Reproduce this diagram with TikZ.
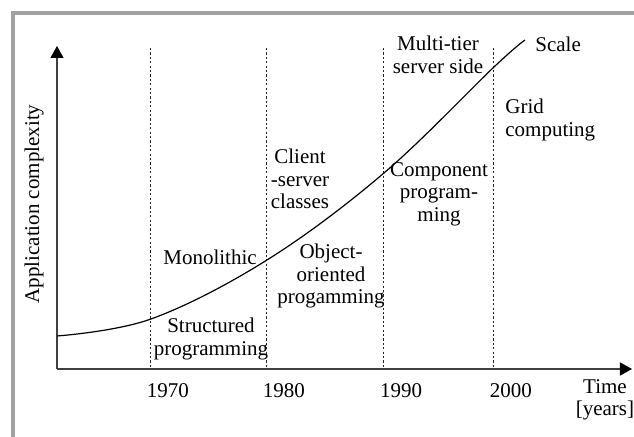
\documentclass[tikz,border=0pt]{standalone}
\usepackage{fontspec}
\setmainfont{Liberation Serif}
\usetikzlibrary{arrows.meta}

\begin{document}
\begin{tikzpicture}[x=0.5pt,y=-0.5pt,font=\fontsize{10.5}{11.25}\selectfont,
    era/.style={align=center,inner sep=0pt},
    yearlab/.style={anchor=base,inner sep=0pt},
    border/.style={line width=2pt,black!37},
    axisline/.style={line width=0.6pt,black!75,-{Triangle[length=6pt,width=6.5pt,color=black]}},
    period/.style={dash pattern=on 1.1pt off 1.1pt,line width=0.5pt,black!85}]
           \useasboundingbox (0,0) rectangle (634,437);
           \draw [border] (634,13) -- (13,13) -- (13,437);
           \coordinate (o) at (57,369);
           \coordinate (ytop) at (57,46);
           \coordinate (xend) at (632,369);
           \draw [axisline] (o) to (ytop);
           \draw [axisline] (o) to (xend);
           \foreach \x/\yr [count=\i] in {151/1970,267/1980,384/1990,494/2000}{
             \coordinate (t\i) at (\x,48);
             \coordinate (b\i) at (\x,369);
             \draw [period] (t\i) to (b\i);
             \node at (\x+17,398) [yearlab] (yr\i) {\yr};
           }
           \draw [line width=0.6pt] plot [smooth,tension=0.6] coordinates {(57,336) (151,319) (267,260) (384,173) (494,67) (525,40)};
           \node at (34,204) [rotate=90,inner sep=0pt] (ylab) {Application complexity};
           \node at (605,400) [era] (time) {Time\\{[years]}};
           \node at (535,52) [anchor=base west,inner sep=0pt] (scale) {Scale};
           \node at (438,55) [era] (multi) {Multi-tier\\server side};
           \node at (505,120) [era,align=left,anchor=west] (grid) {Grid\\computing};
           \node at (439,194) [era] (comp) {Component\\program-\\ming};
           \node at (300,179) [era] (client) {Client\\-server\\classes};
           \node at (331,276) [era] (oop) {Object-\\oriented\\progamming};
           \node at (210,265) [yearlab] (mono) {Monolithic};
           \node at (211,339) [era] (struct) {Structured\\programming};
        \end{tikzpicture}
\end{document}
